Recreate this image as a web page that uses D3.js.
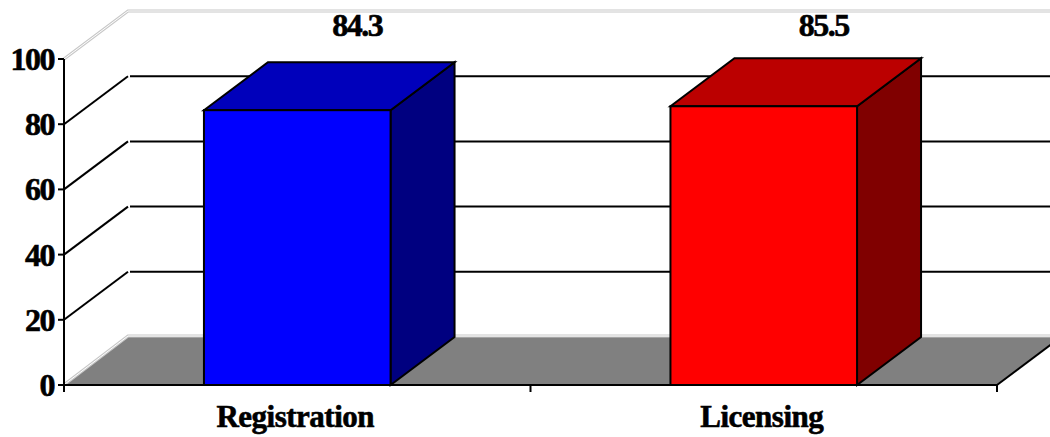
<!DOCTYPE html>
<html>
<head>
<meta charset="utf-8">
<script src="https://cdn.jsdelivr.net/npm/d3@7"></script>
<style>
  html, body { margin: 0; padding: 0; background: #fff; }
  svg { display: block; font-family: "Liberation Serif", "Times New Roman", serif; font-weight: bold; }
  text { stroke: #000; stroke-width: 0.6px; fill: #000; }
</style>
</head>
<body>
<svg id="chart" width="1050" height="437"></svg>
<script>
// --- data ---
const categories = ["Registration", "Licensing"];
const values = [84.3, 85.5];
const yTicks = [0, 20, 40, 60, 80, 100];

const COLORS = {
  Registration: { front: "#0000ff", top: "#0000bb", side: "#000080" },
  Licensing:    { front: "#ff0000", top: "#bb0000", side: "#800000" }
};

// --- layout ---
const W = 1050, H = 437;
const x0 = 64, x1 = 997;       // front plot extent
const depthX = 64, depthY = -48; // 3d offset

const svg = d3.select("#chart");

const x = d3.scaleBand()
  .domain(categories)
  .range([x0, x1])
  .paddingInner(0.6)
  .paddingOuter(0.3);

const y = d3.scaleLinear().domain([0, 100]).range([385, 59]);

svg.append("defs").append("clipPath").attr("id", "clip")
  .append("rect").attr("x", 0).attr("y", 0).attr("width", W).attr("height", H);

const g = svg.append("g").attr("clip-path", "url(#clip)");

// walls edges (light gray double line)
function edge(sel, pts) {
  const line = d3.line();
  sel.append("path").attr("d", line(pts)).attr("fill", "none")
    .attr("stroke", "#c8c8c8").attr("stroke-width", 3);
  sel.append("path").attr("d", line(pts)).attr("fill", "none")
    .attr("stroke", "#fff").attr("stroke-width", 1);
}

// gridlines (left wall + back wall)
yTicks.filter(t => t > 0 && t < 100).forEach(t => {
  const yy = y(t);
  g.append("line").attr("x1", x0).attr("y1", yy).attr("x2", x0 + depthX).attr("y2", yy + depthY)
    .attr("stroke", "#000").attr("stroke-width", 2);
  g.append("line").attr("x1", x0 + depthX + 2).attr("y1", yy + depthY).attr("x2", x1 + depthX + 20).attr("y2", yy + depthY)
    .attr("stroke", "#000").attr("stroke-width", 2);
});

// top edges
edge(g, [[x0, y(100)], [x0 + depthX, y(100) + depthY], [x1 + depthX + 20, y(100) + depthY]]);

// floor
const floorPts = [[x0, y(0)], [x1, y(0)], [x1 + depthX, y(0) + depthY], [x0 + depthX, y(0) + depthY]];
g.append("polygon").attr("points", floorPts.map(p => p.join(",")).join(" "))
  .attr("fill", "#808080");
edge(g, [[x0 + 1, y(0) - 1], [x0 + depthX, y(0) + depthY - 1], [x1 + depthX + 20, y(0) + depthY - 1]]);
g.append("line").attr("x1", x1).attr("y1", y(0)).attr("x2", x1 + depthX).attr("y2", y(0) + depthY)
  .attr("stroke", "#000").attr("stroke-width", 2);

// bars
categories.forEach((c, i) => {
  const v = values[i];
  const bx = x(c), bw = x.bandwidth();
  const top = y(v), bot = y(0);
  const col = COLORS[c];
  const bar = g.append("g").attr("stroke", "#000").attr("stroke-width", 2).attr("stroke-linejoin", "miter");
  bar.append("polygon")
    .attr("points", [[bx + bw, top], [bx + bw + depthX, top + depthY], [bx + bw + depthX, bot + depthY], [bx + bw, bot]].map(p => p.join(",")).join(" "))
    .attr("fill", col.side);
  bar.append("polygon")
    .attr("points", [[bx, top], [bx + depthX, top + depthY], [bx + bw + depthX, top + depthY], [bx + bw, top]].map(p => p.join(",")).join(" "))
    .attr("fill", col.top);
  bar.append("rect")
    .attr("x", bx).attr("y", top).attr("width", bw).attr("height", bot - top)
    .attr("fill", col.front);

  svg.append("text")
    .attr("x", bx + bw / 2 + depthX - 4)
    .attr("y", y(100) + depthY + 25)
    .attr("text-anchor", "middle")
    .attr("font-size", 32)
    .attr("letter-spacing", -1.5)
    .text(v.toFixed(1));
});

// axes
svg.append("line").attr("x1", x0).attr("y1", y(100)).attr("x2", x0).attr("y2", y(0) + 1)
  .attr("stroke", "#000").attr("stroke-width", 2);
svg.append("line").attr("x1", x0 - 1).attr("y1", y(0)).attr("x2", x1 + 1).attr("y2", y(0))
  .attr("stroke", "#000").attr("stroke-width", 2);

yTicks.forEach(t => {
  svg.append("line").attr("x1", x0 - 6).attr("y1", y(t)).attr("x2", x0).attr("y2", y(t))
    .attr("stroke", "#000").attr("stroke-width", 2);
  svg.append("text")
    .attr("x", x0 - 10).attr("y", y(t) + 11)
    .attr("text-anchor", "end")
    .attr("font-size", 32)
    .attr("letter-spacing", -1.5)
    .text(t);
});

// category ticks (boundaries)
const step = x.step();
[x0, x0 + step, x1].forEach(tx => {
  svg.append("line").attr("x1", tx).attr("y1", y(0)).attr("x2", tx).attr("y2", y(0) + 7)
    .attr("stroke", "#000").attr("stroke-width", 2);
});

categories.forEach(c => {
  svg.append("text")
    .attr("x", x(c) + x.bandwidth() / 2 - 2)
    .attr("y", 427)
    .attr("text-anchor", "middle")
    .attr("font-size", 31)
    .attr("letter-spacing", -0.5)
    .text(c);
});
</script>
</body>
</html>
